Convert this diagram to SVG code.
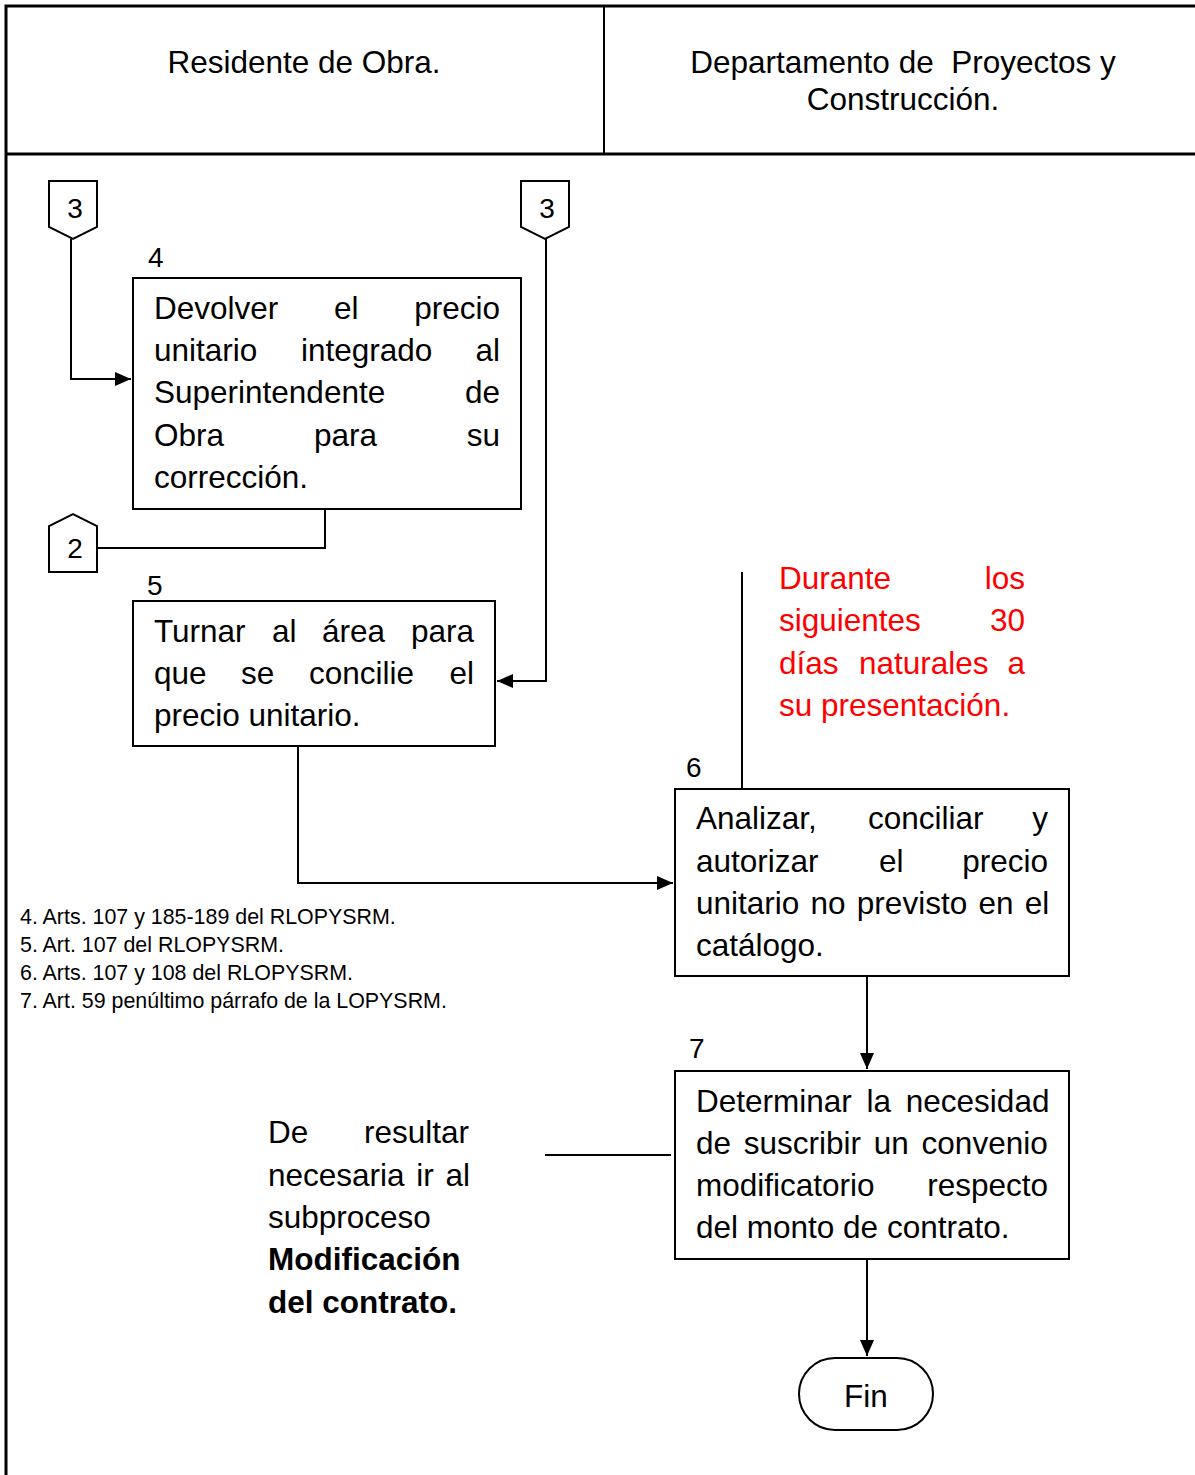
<svg xmlns="http://www.w3.org/2000/svg" width="1195" height="1475" viewBox="0 0 1195 1475">
<defs>
<style>
.t{font-family:"Liberation Sans",Arial,sans-serif;font-size:31.5px;fill:#000}
.h{font-family:"Liberation Sans",Arial,sans-serif;font-size:31.5px;fill:#000;text-anchor:middle;white-space:pre}
.n{font-family:"Liberation Sans",Arial,sans-serif;font-size:28px;fill:#000}
.f{font-family:"Liberation Sans",Arial,sans-serif;font-size:21.4px;fill:#000}
.r{font-family:"Liberation Sans",Arial,sans-serif;font-size:31.5px;fill:#ff0000}
.b{font-weight:bold}
.e{text-anchor:end}
.box{fill:#fff;stroke:#000;stroke-width:2}
.ln{fill:none;stroke:#000;stroke-width:2}
</style>
<marker id="ar" markerWidth="16" markerHeight="14" refX="16" refY="7" orient="auto" markerUnits="userSpaceOnUse">
<path d="M0,0 L16,7 L0,14 Z" fill="#000"/>
</marker>
</defs>
<rect width="1195" height="1475" fill="#fff"/>
<g id="frame">
<path class="ln" d="M6,1475 V6 H1195" style="stroke-width:3"/>
<path class="ln" d="M6,154 H1195" style="stroke-width:3"/>
<path class="ln" d="M604,6 V154"/>
<text class="h" x="304" y="73">Residente de Obra.</text>
<text class="h" x="903" y="73" xml:space="preserve">Departamento de  Proyectos y</text>
<text class="h" x="903" y="110">Construcción.</text>
</g>
<g id="connectors">
<path class="ln" d="M71,239 V379 H131" marker-end="url(#ar)"/>
<path class="ln" d="M97,548 H325 V509"/>
<path class="ln" d="M546,239 V681 H497" marker-end="url(#ar)"/>
<path class="ln" d="M298,746 V883 H673" marker-end="url(#ar)"/>
<path class="ln" d="M742,572 V789"/>
<path class="ln" d="M867,976 V1069" marker-end="url(#ar)"/>
<path class="ln" d="M545,1155 H671"/>
<path class="ln" d="M867,1259 V1356" marker-end="url(#ar)"/>
</g>
<g id="conn3a">
<path class="box" d="M49,181 H97 V227 L73,239 L49,227 Z"/>
<text class="n" x="75" y="218" text-anchor="middle">3</text>
</g>
<g id="conn3b">
<path class="box" d="M521,181 H569 V227 L545,239 L521,227 Z"/>
<text class="n" x="547" y="218" text-anchor="middle">3</text>
</g>
<g id="conn2">
<path class="box" d="M49,572 H97 V526 L73,514 L49,526 Z"/>
<text class="n" x="75" y="558" text-anchor="middle">2</text>
</g>
<g id="step4">
<text class="n" x="148" y="267">4</text>
<rect class="box" x="133" y="278" width="388" height="231"/>
<text class="t" y="319"><tspan x="154">Devolver</tspan><tspan x="334">el</tspan></text>
<text class="t e" x="500" y="319">precio</text>
<text class="t" y="361"><tspan x="154">unitario</tspan><tspan x="301">integrado</tspan></text>
<text class="t e" x="500" y="361">al</text>
<text class="t" x="154" y="403">Superintendente</text>
<text class="t e" x="500" y="403">de</text>
<text class="t" y="446"><tspan x="154">Obra</tspan><tspan x="314">para</tspan></text>
<text class="t e" x="500" y="446">su</text>
<text class="t" x="154" y="488">corrección.</text>
</g>
<g id="step5">
<text class="n" x="147" y="595">5</text>
<rect class="box" x="133" y="601" width="362" height="145"/>
<text class="t" y="642"><tspan x="154">Turnar</tspan><tspan x="272">al</tspan><tspan x="322">área</tspan></text>
<text class="t e" x="474" y="642">para</text>
<text class="t" y="684"><tspan x="154">que</tspan><tspan x="241">se</tspan><tspan x="309">concilie</tspan></text>
<text class="t e" x="474" y="684">el</text>
<text class="t" x="154" y="726">precio unitario.</text>
</g>
<g id="note-red">
<text class="r" x="779" y="589">Durante</text>
<text class="r e" x="1025" y="589">los</text>
<text class="r" x="779" y="631">siguientes</text>
<text class="r e" x="1025" y="631">30</text>
<text class="r" y="674"><tspan x="779">días</tspan><tspan x="859">naturales</tspan></text>
<text class="r e" x="1025" y="674">a</text>
<text class="r" x="779" y="716">su presentación.</text>
</g>
<g id="step6">
<text class="n" x="686" y="777">6</text>
<rect class="box" x="675" y="789" width="394" height="187"/>
<text class="t" y="829"><tspan x="696">Analizar,</tspan><tspan x="868">conciliar</tspan></text>
<text class="t e" x="1048" y="829">y</text>
<text class="t" y="872"><tspan x="696">autorizar</tspan><tspan x="879">el</tspan></text>
<text class="t e" x="1048" y="872">precio</text>
<text class="t" x="696" y="914" word-spacing="2.5">unitario no previsto en el</text>
<text class="t" x="696" y="956">catálogo.</text>
</g>
<g id="footnotes">
<text class="f" x="20" y="924">4. Arts. 107 y 185-189 del RLOPYSRM.</text>
<text class="f" x="20" y="952">5. Art. 107 del RLOPYSRM.</text>
<text class="f" x="20" y="980">6. Arts. 107 y 108 del RLOPYSRM.</text>
<text class="f" x="20" y="1008">7. Art. 59 penúltimo párrafo de la LOPYSRM.</text>
</g>
<g id="step7">
<text class="n" x="689" y="1058">7</text>
<rect class="box" x="675" y="1071" width="394" height="188"/>
<text class="t" x="696" y="1112" word-spacing="6">Determinar la necesidad</text>
<text class="t" x="696" y="1154" word-spacing="4">de suscribir un convenio</text>
<text class="t" x="696" y="1196">modificatorio</text>
<text class="t e" x="1048" y="1196">respecto</text>
<text class="t" x="696" y="1238">del monto de contrato.</text>
</g>
<g id="note-left">
<text class="t" x="268" y="1143">De</text>
<text class="t e" x="469" y="1143">resultar</text>
<text class="t" x="268" y="1186" word-spacing="3">necesaria ir al</text>
<text class="t" x="268" y="1228">subproceso</text>
<text class="t b" x="268" y="1270">Modificación</text>
<text class="t b" x="268" y="1313">del contrato.</text>
</g>
<g id="fin">
<rect class="box" x="799" y="1358" width="134" height="72" rx="36" ry="36"/>
<text class="h" x="866" y="1407">Fin</text>
</g>
</svg>
